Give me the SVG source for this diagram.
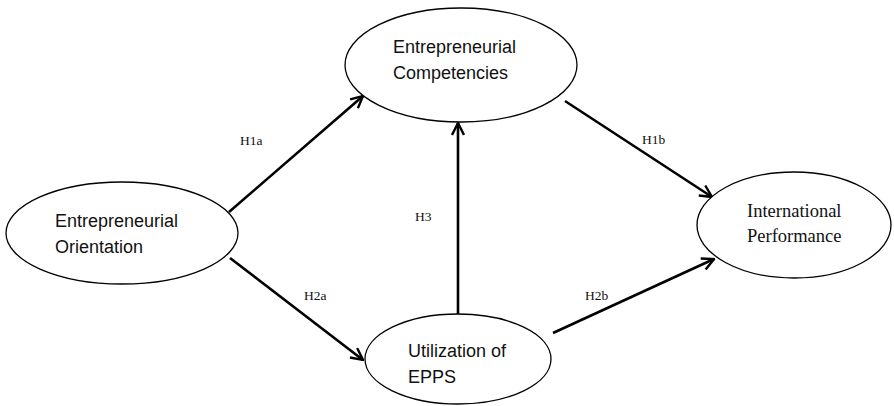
<svg xmlns="http://www.w3.org/2000/svg" width="894" height="406" viewBox="0 0 894 406">
<style>
.node{fill:#fff;stroke:#000;stroke-width:1.3}
.sans{font-family:"Liberation Sans",Arial,sans-serif;font-size:18px;fill:#111}
.serif{font-family:"Liberation Serif","Times New Roman",serif;font-size:18.5px;fill:#111}
.lbl{font-family:"Liberation Serif","Times New Roman",serif;font-size:13.5px;fill:#111}
.edge{stroke:#000;stroke-width:2.6;fill:none;marker-end:url(#arr)}
</style>
<defs>
<marker id="arr" viewBox="0 0 12 12" refX="11" refY="6" markerWidth="5.5" markerHeight="5.5" orient="auto" markerUnits="strokeWidth">
<path d="M1,1 L11,6 L1,11" fill="none" stroke="#000" stroke-width="2"/>
</marker>
</defs>
<rect width="894" height="406" fill="#fff"/>
<g id="connectors">
<line class="edge" x1="229" y1="212" x2="363" y2="96"/>
<line class="edge" x1="565" y1="101" x2="712" y2="197"/>
<line class="edge" x1="230" y1="258" x2="363" y2="360"/>
<line class="edge" x1="553" y1="333" x2="714" y2="259"/>
<line class="edge" x1="458" y1="316" x2="458" y2="123"/>
<text class="lbl" x="240" y="145">H1a</text>
<text class="lbl" x="642" y="144">H1b</text>
<text class="lbl" x="415" y="221">H3</text>
<text class="lbl" x="304" y="300">H2a</text>
<text class="lbl" x="585" y="300">H2b</text>
</g>
<g id="ec">
<ellipse class="node" cx="461" cy="65" rx="116" ry="57"/>
<text class="sans" x="393" y="53">Entrepreneurial</text>
<text class="sans" x="393" y="79">Competencies</text>
</g>
<g id="eo">
<ellipse class="node" cx="122" cy="233" rx="116" ry="51"/>
<text class="sans" x="55" y="227">Entrepreneurial</text>
<text class="sans" x="55" y="253">Orientation</text>
</g>
<g id="ip">
<ellipse class="node" cx="794" cy="225" rx="97" ry="53"/>
<text class="serif" x="747" y="217">International</text>
<text class="serif" x="747" y="242">Performance</text>
</g>
<g id="epps">
<ellipse class="node" cx="458" cy="359" rx="93" ry="45"/>
<text class="sans" x="408" y="357">Utilization of</text>
<text class="sans" x="408" y="383">EPPS</text>
</g>
</svg>
